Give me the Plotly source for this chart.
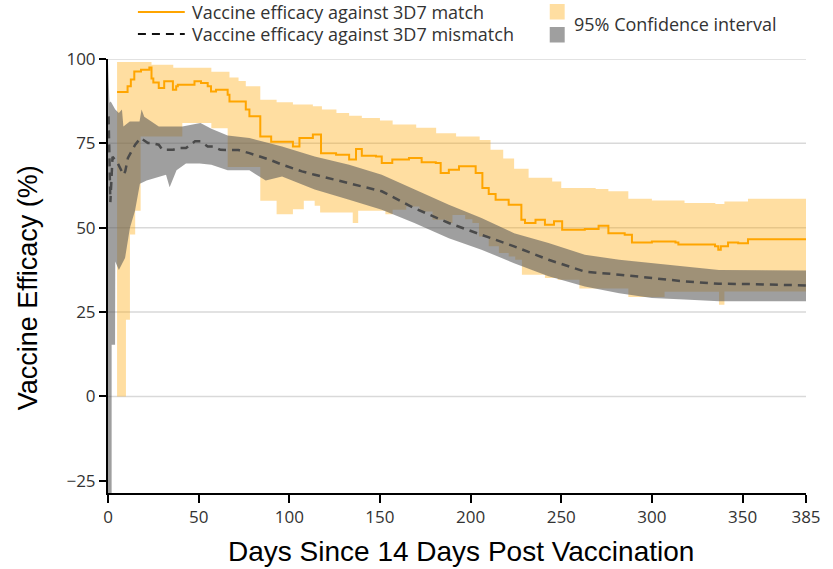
import plotly.graph_objects as go

# ---------------- data ----------------
match_days = [5, 10.8, 12.6, 14.5, 18.2, 22.8, 24, 25, 28, 31, 35.8, 37.6, 38.5, 47.7, 51.3, 55, 56.8,
              59.6, 66, 67, 76, 78, 84, 90, 102, 105.6, 113, 117.5, 125.8, 133, 136.8, 140, 147.8,
              151, 156.8, 166, 173, 180.8, 183.5, 188, 193.6, 202.8, 206.5, 210, 213.8, 221, 228,
              230, 235.8, 241, 246, 250.5, 263, 270.6, 276, 285, 289, 300, 313, 314.6, 334.8,
              336.6, 338, 342, 347.6, 353, 385]
match_ve = [90.2, 91.9, 93.9, 96.3, 96.8, 97.5, 94.2, 93, 91.4, 93.4, 90.9, 91.9, 92.4, 93.4, 92.9,
            91.9, 90.4, 90.9, 89.4, 87.4, 85, 83, 77, 75.5, 74.1, 76.6, 77.6, 72.1, 71.6, 70.2, 73.3,
            71.3, 71.1, 69.2, 70.2, 70.7, 69.4, 69.2, 66.2, 67.2, 68.2, 66.2, 61.8, 60, 58.3, 56.8,
            52.4, 51.4, 52.4, 50.9, 51.9, 49.4, 49.6, 50.6, 48.4, 47.9, 45.6, 45.9, 45.6, 45, 44.5,
            43.5, 44.5, 45.6, 45.4, 46.6, 46.6]

match_hi_days = [5, 24, 36, 57, 67, 72, 76, 84, 93, 102, 113, 118, 126, 133, 140, 150, 157, 170,
                 181, 192, 205, 211, 218, 224, 232, 245, 250, 269, 276, 287, 300, 318, 335, 340,
                 353, 385]
match_hi = [99.1, 98.3, 97.4, 96.2, 94.5, 93.5, 91.9, 87.9, 87.2, 86.5, 86, 85, 84, 83.2, 82.5,
            81.8, 80.6, 79.6, 78, 77, 76, 73.1, 70.5, 67.5, 64.8, 63.7, 61.8, 61.5, 60.8, 58.6,
            58.1, 57.3, 57, 57.8, 58.6, 58.6]

match_lo_days = [5, 9.9, 12.1, 15, 18, 41, 57, 66, 84, 93, 102, 108, 114, 117, 135, 138, 153, 157,
                 164.5, 171.8, 179, 186.5, 190, 197, 201, 204.6, 210, 215.6, 221, 224.6, 228.3,
                 241, 248, 260, 287, 307, 337, 340, 385]
match_lo = [0, 22.7, 48, 55, 77, 81, 79.5, 68, 58, 54, 55.5, 58, 56.5, 54.5, 51.4, 55, 54, 55.3,
            56.3, 54.8, 52.4, 51.4, 53.8, 52.5, 51.4, 47.4, 44.5, 42.5, 41.5, 40.5, 36.1, 35.1,
            34.6, 32, 29.5, 31, 27.2, 31.1, 31.1]

mismatch_days = [0.3, 0.8, 1.3, 2.5, 5, 8.5, 9.5, 11, 13, 15, 18, 22, 24, 28, 30, 33, 36, 39, 43,
                 48, 51, 55, 58, 62, 66, 72, 78, 89, 96, 107, 114, 133, 151, 169, 188, 206, 224,
                 243, 263, 282, 300, 318, 337, 355, 385]
mismatch_ve = [83, 70, 57.6, 71, 69.5, 65.7, 66.7, 70.7, 72.5, 74.6, 76.6, 75.1, 75.1, 74.6, 73.1,
               73.1, 73.1, 73.6, 73.6, 75.6, 75.6, 74.1, 74.1, 73.1, 73.1, 73, 72.1, 70.2, 68.7,
               66.7, 65.7, 63.2, 60.8, 55.8, 51.4, 47.9, 44.5, 40.5, 37, 36.1, 35.1, 34.1, 33.4,
               33.3, 32.9]

mismatch_hi_days = [0, 0.8, 1.5, 4, 6, 7.7, 8.5, 12, 17.4, 18.5, 20, 28, 41, 51, 57, 66, 78, 96,
                    114, 133, 151, 169, 188, 206, 224, 243, 263, 282, 300, 318, 337, 385]
mismatch_hi = [98.8, 87, 87.4, 85, 84, 85, 80, 81.5, 81.5, 85, 82.9, 80, 80, 81, 79.3, 77.3, 76.6,
               74.1, 71.1, 68.7, 65.7, 61.3, 56.8, 52.9, 48.4, 45.5, 42, 40.5, 39.5, 38.5, 37.5,
               37.3]

mismatch_lo_days = [0, 2, 2.01, 3.9, 4, 6, 9.4, 12.1, 14.9, 17.6, 21.3, 32, 34, 37.8, 43, 50.6, 57,
                    66, 78, 87, 96, 114, 133, 151, 169, 188, 206, 224, 243, 263, 282, 300, 318,
                    337, 385]
mismatch_lo = [-32, -32, 15.3, 15.3, 40, 37.5, 41, 50, 55, 63, 64, 65.7, 62, 67, 69, 69, 68.7, 67,
               67, 64, 65.2, 61.3, 58.3, 55.3, 51.4, 46.9, 43.5, 39.5, 35.6, 32.6, 30.6, 29.2,
               28.7, 28.2, 28.2]

x_ticks = [0, 50, 100, 150, 200, 250, 300, 350, 385]
y_ticks = [-25, 0, 25, 50, 75, 100]
grid_values = [0, 25, 50, 75, 100]

legend_match = "Vaccine efficacy against 3D7 match"
legend_mismatch = "Vaccine efficacy against 3D7 mismatch"
legend_ci = "95% Confidence interval"
x_title = "Days Since 14 Days Post Vaccination"
y_title = "Vaccine Efficacy (%)"

# ---------------- styles ----------------
ORANGE_FILL = "rgba(255,165,0,0.37)"
GRAY_FILL = "rgba(90,90,90,0.58)"
ORANGE_LINE = "#FFA500"
DARK_LINE = "#4a4a4a"
LEG_FONT = dict(family="Open Sans", size=18, color="#333333")
TICK_FONT = dict(family="Open Sans", size=17, color="#333333")

W, H = 833, 569
L, T = 108, 59
R = W - 808
B = H - 493
PW, PH = W - L - R, H - T - B


def px(x):
    return (x - L) / PW


def py(y):
    return (H - B - y) / PH


fig = go.Figure()

# orange CI (step)
fig.add_trace(go.Scatter(x=match_lo_days, y=match_lo, mode="lines", line=dict(width=0, shape="hv"),
                         hoverinfo="skip", showlegend=False))
fig.add_trace(go.Scatter(x=match_hi_days, y=match_hi, mode="lines", line=dict(width=0, shape="hv"),
                         fill="tonexty", fillcolor=ORANGE_FILL, hoverinfo="skip", showlegend=False))
# gray CI
fig.add_trace(go.Scatter(x=mismatch_lo_days, y=mismatch_lo, mode="lines", line=dict(width=0),
                         hoverinfo="skip", showlegend=False))
fig.add_trace(go.Scatter(x=mismatch_hi_days, y=mismatch_hi, mode="lines", line=dict(width=0),
                         fill="tonexty", fillcolor=GRAY_FILL, hoverinfo="skip", showlegend=False))
# lines
fig.add_trace(go.Scatter(x=match_days, y=match_ve, mode="lines",
                         line=dict(color=ORANGE_LINE, width=2, shape="hv"), showlegend=False))
fig.add_trace(go.Scatter(x=mismatch_days, y=mismatch_ve, mode="lines",
                         line=dict(color=DARK_LINE, width=2.5, dash="8px,6px"), showlegend=False))

shapes = []
for g in grid_values:
    shapes.append(dict(type="line", xref="paper", yref="y", x0=0, x1=1, y0=g, y1=g,
                       line=dict(color="#d9d9d9", width=1.5), layer="below"))

# manual legend
shapes.append(dict(type="line", xref="paper", yref="paper", x0=px(138), x1=px(185),
                   y0=py(12), y1=py(12), line=dict(color=ORANGE_LINE, width=2)))
shapes.append(dict(type="line", xref="paper", yref="paper", x0=px(138), x1=px(185),
                   y0=py(34), y1=py(34), line=dict(color="#111111", width=2, dash="8px,6px")))
shapes.append(dict(type="rect", xref="paper", yref="paper", x0=px(551), x1=px(566),
                   y0=py(19.5), y1=py(4), line=dict(width=0), fillcolor=ORANGE_FILL))
shapes.append(dict(type="rect", xref="paper", yref="paper", x0=px(551), x1=px(566),
                   y0=py(42.5), y1=py(27), line=dict(width=0), fillcolor=GRAY_FILL))

annotations = [
    dict(text=legend_match, xref="paper", yref="paper", x=px(190), y=py(12), xanchor="left",
         yanchor="middle", showarrow=False, font=LEG_FONT),
    dict(text=legend_mismatch, xref="paper", yref="paper", x=px(190), y=py(34), xanchor="left",
         yanchor="middle", showarrow=False, font=LEG_FONT),
    dict(text=legend_ci, xref="paper", yref="paper", x=px(573), y=py(24), xanchor="left",
         yanchor="middle", showarrow=False, font=LEG_FONT),
    dict(text=x_title, xref="paper", yref="paper", x=px(462), y=py(551), xanchor="center",
         yanchor="middle", showarrow=False,
         font=dict(family="Liberation Sans, Arial", size=28, color="#000000")),
    dict(text=y_title, xref="paper", yref="paper", x=px(28), y=py(288), xanchor="center",
         yanchor="middle", showarrow=False, textangle=-90,
         font=dict(family="Liberation Sans, Arial", size=27, color="#000000")),
]

fig.update_layout(
    width=W, height=H,
    margin=dict(l=L, r=R, t=T, b=B),
    paper_bgcolor="white", plot_bgcolor="white",
    shapes=shapes, annotations=annotations,
    showlegend=False,
    xaxis=dict(range=[0, 385], tickvals=x_ticks, showgrid=False, zeroline=False,
               showline=True, linecolor="#000000", linewidth=2, ticks="outside", ticklen=8,
               tickwidth=1.5, tickcolor="#000000", tickfont=TICK_FONT),
    yaxis=dict(range=[-28.6, 100], tickvals=y_ticks, showgrid=False, zeroline=False,
               showline=True, linecolor="#000000", linewidth=2, ticks="outside", ticklen=7,
               tickwidth=1.5, tickcolor="#000000", tickfont=TICK_FONT),
)

# remove the default 8px page margin so the figure fills the window exactly
fig.write_html("out.html", config={"displayModeBar": False},
               post_script="document.body.style.margin='0';")
